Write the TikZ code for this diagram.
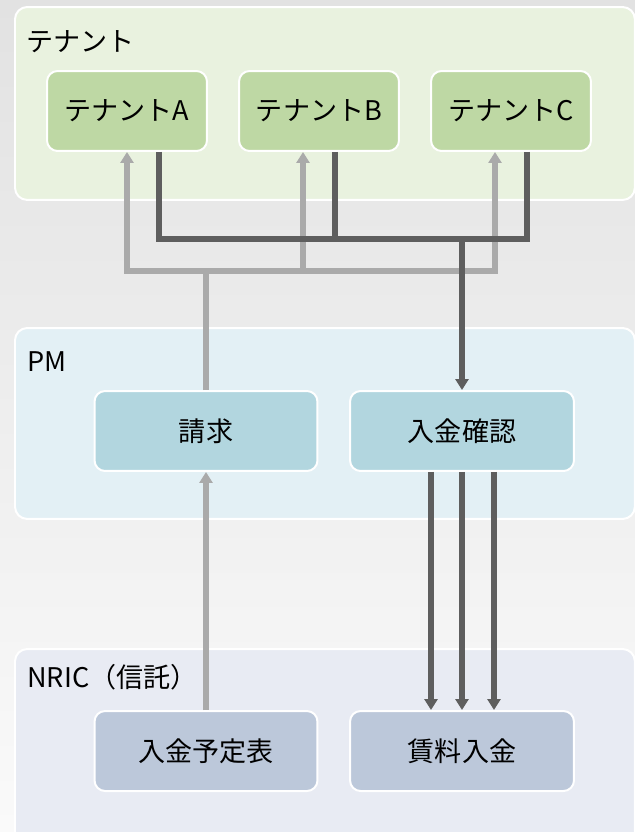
\documentclass[tikz,border=0pt]{standalone}
\usepackage{fontspec}
\setmainfont{Noto Sans CJK JP}
\usetikzlibrary{arrows.meta}

\definecolor{bgtop}{RGB}{226,226,226}
\definecolor{bgbot}{RGB}{250,250,250}
\definecolor{tenantbg}{RGB}{233,242,223}
\definecolor{tenantbox}{RGB}{190,216,164}
\definecolor{pmbg}{RGB}{227,240,245}
\definecolor{pmbox}{RGB}{178,214,223}
\definecolor{nricbg}{RGB}{232,235,243}
\definecolor{nricbox}{RGB}{188,200,218}
\definecolor{lightline}{RGB}{170,170,170}
\definecolor{darkline}{RGB}{94,94,94}

\begin{document}
\begin{tikzpicture}[x=0.02cm, y=-0.02cm,
  group/.style={draw=white, line width=0.04cm, rounded corners=7pt, anchor=north west, inner sep=0pt},
  box/.style={draw=white, line width=0.04cm, rounded corners=6pt, minimum height=1.6cm, inner sep=0pt, font=\fontsize{15.4}{18}\selectfont},
  title/.style={anchor=west, inner sep=0pt, font=\fontsize{15.4}{18}\selectfont},
  light/.style={draw=lightline, line width=0.12cm},
  dark/.style={draw=darkline, line width=0.12cm},
  tip/.style={-{Triangle[length=0.22cm,width=0.26cm]}}
]

\useasboundingbox (0,0) rectangle (635,832);
\clip (0,0) rectangle (635,832);
\shade[top color=bgtop, bottom color=bgbot] (0,0) rectangle (635,832);

\node[group, fill=tenantbg, minimum width=12.4cm, minimum height=3.86cm] (tenant) at (14,6) {};
\node[group, fill=pmbg, minimum width=12.4cm, minimum height=3.82cm] (pm) at (14,327) {};
\node[group, fill=nricbg, minimum width=12.4cm, minimum height=4.2cm] (nric) at (14,648) {};

\node[title] (tenantlbl) at (26,42) {テナント};
\node[title] (pmlbl) at (27,362) {PM};
\node[title] (nriclbl) at (27,677) {NRIC（信託）};

\foreach \n/\x in {A/127, B/319, C/511}{
\node[box, fill=tenantbox, minimum width=3.2cm] (t\n) at (\x,111) {テナント\n};
}

\node[box, fill=pmbox, minimum width=4.46cm] (seikyu) at (206,431) {請求};
\node[box, fill=pmbox, minimum width=4.48cm] (nyukin) at (462,431) {入金確認};
\node[box, fill=nricbox, minimum width=4.46cm] (yotei) at (206,751) {入金予定表};
\node[box, fill=nricbox, minimum width=4.48cm] (chinryo) at (462,751) {賃料入金};

\coordinate (lightbar) at (0,271);
\coordinate (darkbar) at (0,239);

\draw[light] (seikyu.north) -- (seikyu.north |- lightbar);
\foreach \n/\dx in {A/0, B/-0.32, C/-0.32}{
\draw[light, tip] (seikyu.north |- lightbar) -| ([xshift=\dx cm]t\n.south);
}
\draw[light, tip] (yotei.north) -- (seikyu.south);

\foreach \n/\dx in {A/0.64, B/0.32, C/0.32}{
\draw[dark] ([xshift=\dx cm]t\n.south) |- (nyukin.north |- darkbar);
}
\draw[dark, tip] (nyukin.north |- darkbar) -- (nyukin.north);

\foreach \dx in {-0.62, 0, 0.64}{
\draw[dark, tip] ([xshift=\dx cm]nyukin.south) -- ([xshift=\dx cm]chinryo.north);
}
\end{tikzpicture}
\end{document}
